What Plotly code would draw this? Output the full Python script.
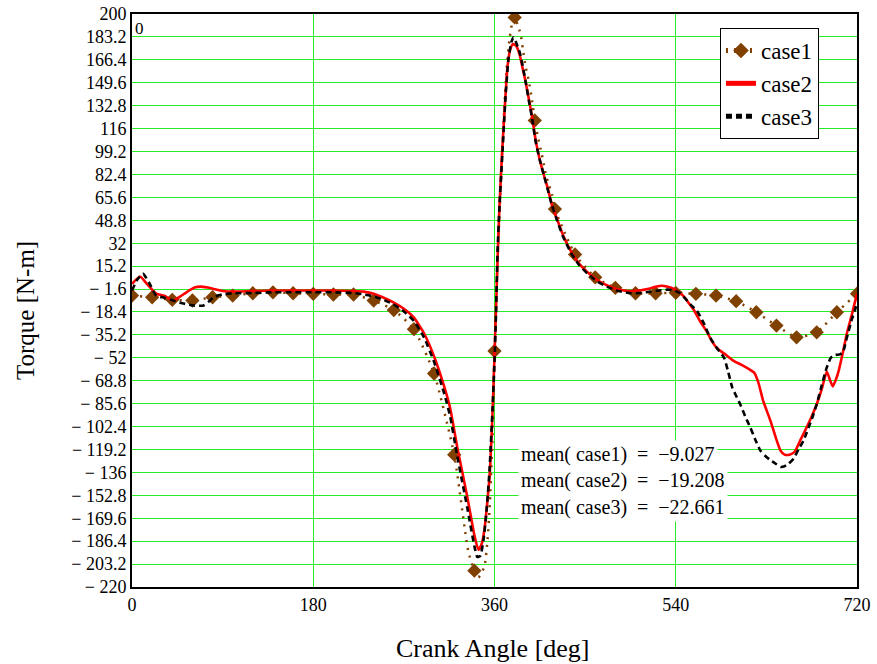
import plotly.graph_objects as go

# ---------------- data ----------------
case1_angle = [0, 20, 40, 60, 80, 100, 120, 140, 160, 180, 200, 220, 240, 260, 280, 300, 320,
               334, 340, 344, 350, 353, 355, 358, 360, 363, 366, 369, 372, 375, 378, 380, 383,
               386, 388, 391, 394, 397, 400, 403, 407, 411, 414, 417, 420, 440, 460, 480, 500,
               520, 540, 560, 580, 600, 620, 640, 660, 680, 700, 720]
case1_torque = [-6.4, -7.6, -9.5, -10, -7.6, -6.4, -4.7, -4, -4.7, -5.1, -5.6, -5.6, -10, -17, -31,
                -63.5, -123, -194, -208, -213, -205, -186, -164, -110, -47, 20, 70, 120, 160, 182,
                195, 197.5, 192, 185, 175, 161, 151, 138, 122, 110, 97, 82, 75, 68, 57, 23.7, 7,
                -0.7, -4.7, -4.7, -4.4, -5.1, -6.4, -10.5, -18.6, -28.4, -37, -33.3, -18.6, -5]

case2_angle = [0, 8, 15, 24, 32, 41, 48, 54, 62, 68, 75, 81, 90, 100, 120, 140, 160, 180, 200, 220,
               230, 240, 250, 260, 270, 280, 290, 300, 310, 316, 323, 333, 340, 344, 347, 350, 355,
               358, 360, 362, 363.5, 365, 367.5, 370.5, 373, 376, 378.5, 382, 385, 388, 391, 394,
               397, 401, 405, 409, 413, 417, 422, 428, 436, 444, 452, 462, 472, 483, 495, 505, 512,
               520, 526, 532, 538, 544, 548, 553, 558, 564, 571, 576, 581, 590, 597, 605, 612, 618,
               622, 627, 634, 640, 644, 648, 653, 658, 664, 670, 675, 680, 685, 690, 693, 696, 699,
               702, 706, 710, 715, 720]
case2_torque = [2.2, 7.6, 2, -5, -6.5, -10, -7, -4, -0.5, 0.2, -0.5, -1.5, -3, -3.5, -3, -2.7, -2.7,
                -2.7, -2.7, -3, -3.5, -5, -8, -11.5, -16, -22.5, -34, -51, -73, -89, -117.5, -154,
                -182, -192.7, -189, -178, -140, -93, -50, -5, 30, 60, 98, 135, 162, 175, 178, 176,
                170, 160, 150, 138, 126, 107, 93, 82, 72, 60, 50, 38, 26, 17, 11, 5, 1, -2, -3,
                -2.5, -1.5, 0, 0.8, 0, -1.5, -4.5, -7, -12, -17, -25, -33, -40, -45, -50, -54, -57,
                -60, -63, -70, -84, -98, -112, -120, -123, -123, -121, -112, -103, -95, -86, -75,
                -62, -68, -73, -68, -61, -48, -34, -20, -5]

case3_angle = [0, 5, 11, 17, 24, 32, 41, 50, 61, 71, 76, 81, 90, 100, 120, 140, 160, 180, 200, 220,
               230, 240, 250, 260, 270, 280, 290, 300, 310, 316, 323, 333, 340, 343, 346, 349, 352,
               355, 358, 360, 361.5, 363, 365, 368, 371, 374, 377, 379, 381, 385, 388, 391, 394,
               397, 401, 405, 409, 413, 417, 422, 428, 436, 444, 452, 462, 472, 483, 495, 505, 515,
               525, 532, 538, 544, 550, 556, 561, 568, 574, 581, 588, 592, 596, 600, 604, 609, 614,
               619, 624, 629, 634, 640, 644, 648, 652, 657, 662, 667, 672, 676, 680, 685, 690, 694,
               698, 703, 706, 710, 715, 718, 720]
case3_torque = [-2.7, 5, 9.5, 3, -6.4, -8, -10, -12, -13.7, -13.7, -11, -7.6, -5.5, -4.7, -4.5, -4,
                -4, -4, -4, -4.5, -5.5, -7, -9.5, -13, -18, -25, -37, -55, -78, -95, -124, -162,
                -190, -198, -197, -186, -165, -135, -90, -55, -20, 25, 60, 100, 140, 168, 180, 183,
                180, 172, 162, 150, 137, 125, 106, 93, 82, 71, 60, 49, 37, 25, 16, 10, 4, 0, -3,
                -4.7, -4.5, -3.5, -2.5, -2, -2.5, -4.5, -9, -14, -17.4, -27, -37, -45, -52, -62,
                -73.5, -80, -86, -95, -103, -112, -120, -124, -127, -130, -132, -131.5, -129.7,
                -126, -119, -112.5, -103, -95, -86, -72, -59, -52, -50, -49.5, -48, -37, -23.5,
                -17, -12]

x_ticks = [0, 180, 360, 540, 720]
y_ticks = [200, 183.2, 166.4, 149.6, 132.8, 116, 99.2, 82.4, 65.6, 48.8, 32, 15.2, -1.6, -18.4,
           -35.2, -52, -68.8, -85.6, -102.4, -119.2, -136, -152.8, -169.6, -186.4, -203.2, -220]

mean_labels = ["mean( case1)  =  \u22129.027",
               "mean( case2)  =  \u221219.208",
               "mean( case3)  =  \u221222.661"]

# ---------------- styling ----------------
SERIF = "Liberation Serif"
BROWN = "#804000"
GRID = "rgb(40,235,40)"


def fmt_tick(v):
    s = ("%g" % abs(v))
    return s if v >= 0 else "\u2212 " + s


fig = go.Figure()

marker_sizes = [11 if a % 20 == 0 else 0 for a in case1_angle]
fig.add_trace(go.Scatter(
    x=case1_angle, y=case1_torque, name="case1", mode="lines+markers",
    line=dict(color=BROWN, width=2.5, dash="2px,6px", shape="spline", smoothing=0.5),
    marker=dict(symbol="diamond", size=marker_sizes, color=BROWN, opacity=1,
                line=dict(width=0)),
))
fig.add_trace(go.Scatter(
    x=case2_angle, y=case2_torque, name="case2", mode="lines",
    line=dict(color="#ff0000", width=2.6, shape="spline", smoothing=0.5),
))
fig.add_trace(go.Scatter(
    x=case3_angle, y=case3_torque, name="case3", mode="lines",
    line=dict(color="#000000", width=2.6, dash="6px,4px", shape="spline", smoothing=0.5),
))

annotations = []
for i, txt in enumerate(mean_labels):
    annotations.append(dict(
        text=txt, xref="paper", yref="paper", x=0.532, y=0.2304 - i * 0.0454,
        xanchor="left", yanchor="middle", showarrow=False, bgcolor="white", borderpad=2,
        font=dict(family=SERIF, size=20, color="black"),
    ))
annotations.append(dict(
    text="0", xref="paper", yref="paper", x=0, y=1, xanchor="left", yanchor="top",
    xshift=1, yshift=-3, showarrow=False, font=dict(family=SERIF, size=17, color="black"),
))
annotations.append(dict(
    text="Torque [N-m]", xref="paper", yref="paper", x=-0.1476, y=0.4834,
    xanchor="center", yanchor="middle", textangle=-90, showarrow=False,
    font=dict(family=SERIF, size=25, color="black"),
))
annotations.append(dict(
    text="Crank Angle [deg]", xref="paper", yref="paper", x=0.498, y=-0.108,
    xanchor="center", yanchor="middle", showarrow=False,
    font=dict(family=SERIF, size=26, color="black"),
))

fig.update_layout(
    width=877, height=664,
    margin=dict(l=132, r=20, t=14, b=77, autoexpand=False),
    paper_bgcolor="white", plot_bgcolor="white",
    font=dict(family=SERIF, size=18, color="black"),
    showlegend=True,
    legend=dict(
        x=0.811, y=0.9756, xanchor="left", yanchor="top",
        bgcolor="white", bordercolor="black", borderwidth=1,
        font=dict(family=SERIF, size=23, color="black"),
        itemsizing="constant", tracegroupgap=0,
    ),
    annotations=annotations,
    xaxis=dict(
        range=[0, 720], tickmode="array", tickvals=x_ticks,
        ticktext=[str(v) for v in x_ticks],
        showgrid=True, gridcolor=GRID, gridwidth=1,
        showline=True, linecolor="black", linewidth=2, mirror=True,
        zeroline=False, ticks="", tickfont=dict(family=SERIF, size=18, color="black"),
    ),
    yaxis=dict(
        range=[-220, 200], tickmode="array", tickvals=y_ticks,
        ticktext=[fmt_tick(v) for v in y_ticks],
        showgrid=True, gridcolor=GRID, gridwidth=1,
        showline=True, linecolor="black", linewidth=2, mirror=True,
        zeroline=False, ticks="", tickfont=dict(family=SERIF, size=18, color="black"),
    ),
)

fig.write_html(
    "out.html",
    config={"displayModeBar": False},
    post_script="document.body.style.margin='0px';document.body.style.overflow='hidden';",
)
